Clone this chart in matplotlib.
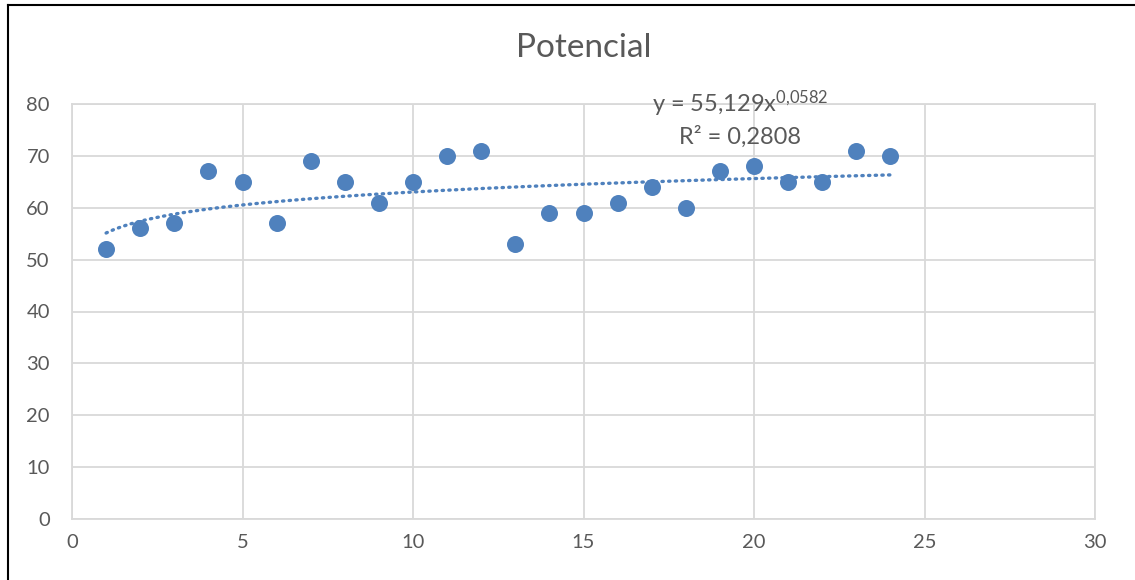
import numpy as np
import matplotlib.pyplot as plt
from matplotlib.lines import Line2D

# Datos
x = [1, 2, 3, 4, 5, 6, 7, 8, 9, 10, 11, 12, 13, 14, 15, 16, 17, 18, 19, 20, 21, 22, 23, 24]
y = [52, 56, 57, 67, 65, 57, 69, 65, 61, 65, 70, 71, 53, 59, 59, 61, 64, 60, 67, 68, 65, 65, 71, 70]
coef_a = 55.129
coef_b = 0.0582

plt.rcParams['font.family'] = ['Lato', 'DejaVu Sans']
plt.rcParams['mathtext.fontset'] = 'custom'
plt.rcParams['mathtext.rm'] = 'Lato'
azul = '#4f81bd'
gris = '#d9d9d9'
texto = '#595959'

fig = plt.figure(figsize=(11.35, 5.80), dpi=100)
ax = fig.add_axes([72 / 1135, 61 / 580, 1023 / 1135, 415 / 580])

# Línea de tendencia potencial
xt = np.linspace(min(x), max(x), 200)
ax.plot(xt, coef_a * xt ** coef_b, color=azul, lw=2.4, linestyle=(0, (0.4, 1.6)),
        dash_capstyle='round', zorder=2)
ax.scatter(x, y, s=150, color=azul, zorder=3, linewidths=0)

ax.set_xlim(0, 30)
ax.set_ylim(0, 80)
ax.set_xticks(range(0, 31, 5))
ax.set_yticks(range(0, 81, 10))
ax.grid(True, color=gris, lw=1.3)
ax.set_axisbelow(True)
for s in ax.spines.values():
    s.set_color(gris)
    s.set_linewidth(1.3)
ax.tick_params(length=0, labelsize=14.5, labelcolor=texto, pad=11)
ax.tick_params(axis='y', pad=16)

ax.set_title('Potencial', fontsize=24, color=texto, pad=34)

ax.text(19.6, 80.0, r'y = 55,129x$\mathregular{^{0{,}0582}}$', ha='center', va='center',
        fontsize=17, color=texto)
ax.text(19.6, 73.7, 'R² = 0,2808', ha='center', va='center', fontsize=17, color=texto)

# Marco del gráfico
fig.add_artist(Line2D([8 / 1135, 8 / 1135], [0, 1 - 5 / 580], transform=fig.transFigure, color='black', lw=1.5))
fig.add_artist(Line2D([8 / 1135, 1], [1 - 5 / 580, 1 - 5 / 580], transform=fig.transFigure, color='black', lw=1.5))

fig.savefig('out.png', dpi=100)
